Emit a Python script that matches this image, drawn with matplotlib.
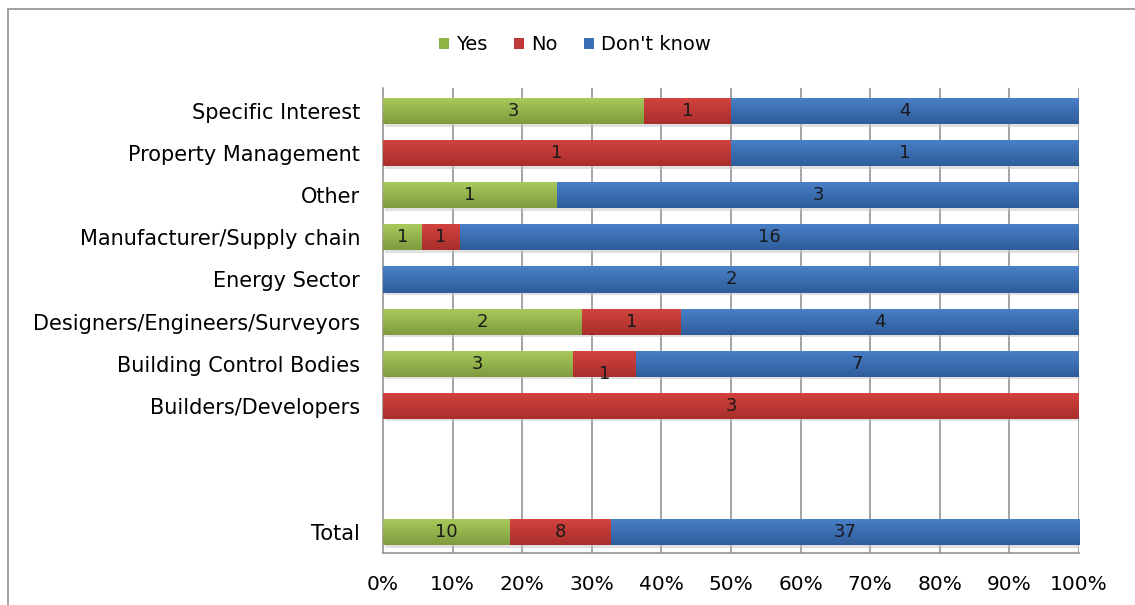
import numpy as np
import matplotlib.pyplot as plt
from matplotlib.patches import Rectangle
from matplotlib.colors import LinearSegmentedColormap

categories = ["Specific Interest", "Property Management", "Other",
              "Manufacturer/Supply chain", "Energy Sector",
              "Designers/Engineers/Surveyors", "Building Control Bodies",
              "Builders/Developers", "", "", "Total"]
yes_vals = [3, 0, 1, 1, 0, 2, 3, 0, 0, 0, 10]
no_vals = [1, 1, 0, 1, 0, 1, 1, 3, 0, 0, 8]
dk_vals = [4, 1, 3, 16, 2, 4, 7, 0, 0, 0, 37]
series_names = ["Yes", "No", "Don't know"]
xtick_labels = ["0%", "10%", "20%", "30%", "40%", "50%", "60%", "70%", "80%", "90%", "100%"]

# top / bottom shades of each series for the bar gradient
shades = {
    "Yes": ("#a9cc5c", "#7f9b3e"),
    "No": ("#d4433f", "#a82f2c"),
    "Don't know": ("#4a80c8", "#2e5d9a"),
}
legend_colors = {"Yes": "#8db545", "No": "#c0383a", "Don't know": "#3a6fb5"}

plt.rcParams['font.family'] = ['DejaVu Sans']
fig = plt.figure(figsize=(11.35, 6.05), dpi=100)
W, H = 1135, 605
ax = fig.add_axes([383 / W, 1 - 553 / H, (1079 - 383) / W, (553 - 88) / H])

# outer chart frame
fig.patches.append(Rectangle((8 / W, -0.1), 1.2, 1 - 9 / H + 0.1,
                             transform=fig.transFigure, fill=False,
                             edgecolor="#9a9a9a", linewidth=1.3, zorder=0))

ax.set_xlim(0, 1)
ax.set_ylim(10.5, -0.55)
bar_h = 0.62

for g in np.arange(0.1, 1.01, 0.1):
    ax.axvline(g, color="#8c8c8c", linewidth=1.1, zorder=1)

grad = np.linspace(0, 1, 64).reshape(-1, 1)
for i, cat in enumerate(categories):
    vals = [yes_vals[i], no_vals[i], dk_vals[i]]
    tot = sum(vals)
    if tot == 0:
        continue
    # soft shadow beneath the bar
    ax.add_patch(Rectangle((0.003, i - bar_h / 2 + 0.06), 1.0, bar_h,
                           facecolor="#c8c8c8", edgecolor="none", alpha=0.55, zorder=2))
    left = 0.0
    for name, v in zip(series_names, vals):
        if v == 0:
            continue
        w = v / tot
        top, bot = shades[name]
        cmap = LinearSegmentedColormap.from_list(name, [top, bot])
        rect = Rectangle((left, i - bar_h / 2), w, bar_h, facecolor="none",
                         edgecolor="none", zorder=3)
        ax.add_patch(rect)
        im = ax.imshow(grad, cmap=cmap, aspect="auto",
                       extent=(left, left + w, i + bar_h / 2, i - bar_h / 2),
                       zorder=3, interpolation="bilinear")
        im.set_clip_path(rect)
        dy = 0.25 if (cat == "Building Control Bodies" and name == "No") else 0.0
        ax.text(left + w / 2, i + dy, str(v), ha="center", va="center",
                fontsize=13, color="#1a1a1a", zorder=5)
        left += w

ax.set_xticks(np.linspace(0, 1, 11))
ax.set_xticklabels(xtick_labels, fontsize=14.5)
ax.set_yticks(range(len(categories)))
ax.set_yticklabels(categories, fontsize=15)
ax.tick_params(axis="y", length=0, pad=16.5)
ax.tick_params(axis="x", length=0, pad=16)
for s in ["top", "right"]:
    ax.spines[s].set_visible(False)
for s in ["left", "bottom"]:
    ax.spines[s].set_color("#8c8c8c")
    ax.spines[s].set_linewidth(1.1)

handles = [Rectangle((0, 0), 1, 1, facecolor=legend_colors[n]) for n in series_names]
fig.legend(handles, series_names, loc="center", bbox_to_anchor=(575 / W, 1 - 45 / H),
           ncol=3, frameon=False, fontsize=14, handlelength=0.5, handleheight=0.5,
           handletextpad=0.35, columnspacing=1.4)

fig.savefig("out.png", dpi=100)
